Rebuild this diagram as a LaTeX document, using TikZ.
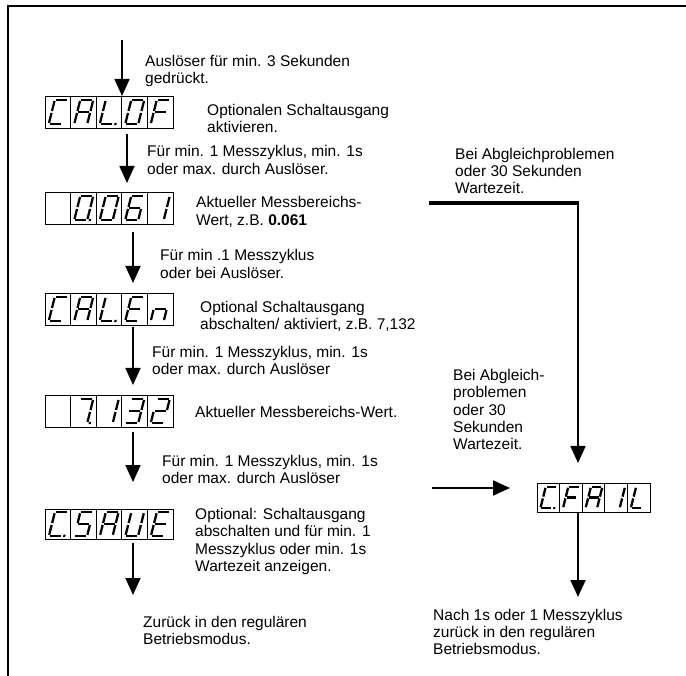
\documentclass[tikz,border=0pt]{standalone}
\usepackage{fontspec}
\setmainfont{Liberation Sans}
\usetikzlibrary{arrows.meta}
\tikzset{
  segline/.style={line width=2.3pt},
  seg/a/.code={\draw[segline] (1,-24) -- (12,-24);},
  seg/b/.code={\draw[segline] (13,-23) -- (13,-13);},
  seg/c/.code={\draw[segline] (13,-11) -- (13,-1);},
  seg/d/.code={\draw[segline] (1,0) -- (12,0);},
  seg/e/.code={\draw[segline] (0,-11) -- (0,-1);},
  seg/f/.code={\draw[segline] (0,-23) -- (0,-13);},
  seg/g/.code={\draw[segline] (1,-12) -- (12,-12);},
  seg/p/.code={\fill (14.6,1.1) rectangle (16.8,-1.1);},
  seg/x/.code={},
}
\newcommand\segdraw[1]{\tikzset{seg/#1}}
% name, x, y(top), cell width, height, scale, cells
\newcommand\sevdisp[7]{%
  \node[disp, minimum width=5*#4, minimum height=#5] (#1) at (#2,#3) {};
  \foreach \k in {1,2,3,4}{\draw[divline] (#2+\k*#4,#3) -- (#2+\k*#4,#3+#5);}
  \foreach \c [count=\i from 0] in {#7}{%
    \begin{scope}[shift={({#2+\i*#4+(#4-19*#6)/2+0.5},{#3+#5-(#5-24*#6)/2})}, xslant=0.25, scale=#6]
      \foreach \s in \c {\expandafter\segdraw\expandafter{\s}}
    \end{scope}}%
}
\begin{document}
\begin{tikzpicture}[x=1pt,y=-1pt,
  txt/.style={anchor=west,inner sep=0pt,align=left,font=\fontsize{15.5pt}{17.3pt}\selectfont},
  arr/.style={line width=1.8pt,-{Triangle[length=17pt,width=15pt]}},
  disp/.style={draw,line width=0.8pt,rectangle,inner sep=0pt,anchor=north west},
  divline/.style={line width=0.8pt},
  frameline/.style={line width=2pt},
  feedline/.style={line width=3.5pt}]
\useasboundingbox (0,0) rectangle (686,676);
\draw[frameline] (686,6) -- (8,6) -- (8,676);

% displays
\sevdisp{d1}{45}{96}{25.5}{32}{1}{{a,d,e,f},{a,b,c,e,f,g},{d,e,f,p},{a,b,c,d,e,f},{a,e,f,g}}
\sevdisp{d2}{45}{192}{25.5}{32}{1}{{x},{a,b,c,d,e,f,p},{a,b,c,d,e,f},{a,c,d,e,f,g},{b,c}}
\sevdisp{d3}{45}{293}{25.5}{32}{1}{{a,d,e,f},{a,b,c,e,f,g},{d,e,f,p},{a,d,e,f,g},{c,e,g}}
\sevdisp{d4}{45}{395}{25.5}{32}{1}{{x},{a,b,c,p},{b,c},{a,b,c,d,g},{a,b,d,e,g}}
\sevdisp{d5}{45}{509}{25.5}{30}{0.98}{{a,d,e,f,p},{a,c,d,f,g},{a,b,c,e,f,g},{b,c,d,e,f},{a,d,e,f,g}}
\sevdisp{d6}{537}{483}{22.6}{29}{0.88}{{a,d,e,f,p},{a,e,f,g},{a,b,c,e,f,g},{b,c},{d,e,f}}

% texts
\node[txt] (t1) at (145,71) {Auslöser für min. 3 Sekunden\\gedrückt.};
\node[txt] (t2) at (207,118.5) {Optionalen Schaltausgang\\aktivieren.};
\node[txt] (t3) at (147,160) {Für min. 1 Messzyklus, min. 1s\\oder max. durch Auslöser.};
\node[txt] (t4) at (196,212) {Aktueller Messbereichs-\\Wert, z.B. \textbf{0.061}};
\node[txt] (t5) at (160,264) {Für min .1 Messzyklus\\oder bei Auslöser.};
\node[txt] (t6) at (200,316.5) {Optional Schaltausgang\\abschalten/ aktiviert, z.B. 7,132};
\node[txt] (t7) at (152,360.5) {Für min. 1 Messzyklus, min. 1s\\oder max. durch Auslöser};
\node[txt] (t8) at (195,412) {Aktueller Messbereichs-Wert.};
\node[txt] (t9) at (162,469.5) {Für min. 1 Messzyklus, min. 1s\\oder max. durch Auslöser};
\node[txt] (t10) at (195,541.5) {Optional: Schaltausgang\\abschalten und für min. 1\\Messzyklus oder min. 1s\\Wartezeit anzeigen.};
\node[txt] (t11) at (143,630.5) {Zurück in den regulären\\Betriebsmodus.};
\node[txt] (r1) at (455,171) {Bei Abgleichproblemen\\oder 30 Sekunden\\Wartezeit.};
\node[txt] (r2) at (453,409.5) {Bei Abgleich-\\problemen\\oder 30\\Sekunden\\Wartezeit.};
\node[txt] (r3) at (433,632) {Nach 1s oder 1 Messzyklus\\zurück in den regulären\\Betriebsmodus.};

% arrows left column
\coordinate (s1) at (122,40);
\draw[arr] (s1) -- (s1 |- d1.north);
\coordinate (s2) at (127,134); \coordinate (e2) at (127,183);
\draw[arr] (s2) -- (e2);
\coordinate (s3) at (133,232); \coordinate (e3) at (133,283);
\draw[arr] (s3) -- (e3);
\coordinate (s4) at (133,327); \coordinate (e4) at (133,385);
\draw[arr] (s4) -- (e4);
\coordinate (s5) at (133,432); \coordinate (e5) at (133,482);
\draw[arr] (s5) -- (e5);
\coordinate (s6) at (133,543); \coordinate (e6) at (133,595);
\draw[arr] (s6) -- (e6);

% right column
\coordinate (h1) at (429,203); \coordinate (hc) at (578,203); \coordinate (he) at (578,463);
\draw[feedline] (h1) -- ([xshift=1pt]hc);
\draw[arr] (hc) -- (he);
\coordinate (q1) at (432,488); \coordinate (q2) at (510,488);
\draw[arr] (q1) -- (q2);
\coordinate (e7) at (578,597);
\draw[arr] (d6.south -| e7) -- (e7);
\end{tikzpicture}
\end{document}
